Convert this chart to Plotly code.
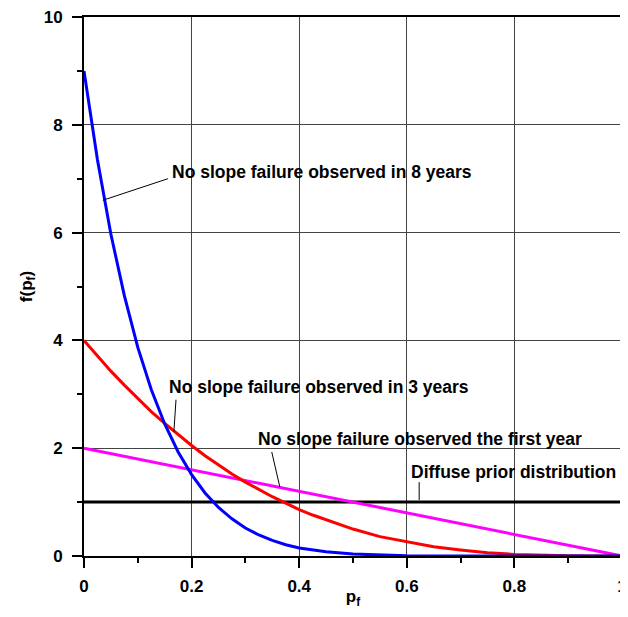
import plotly.graph_objects as go

# Values
p_blue = [0, 0.025, 0.05, 0.075, 0.1, 0.125, 0.15, 0.175, 0.2, 0.225, 0.25, 0.275, 0.3, 0.325, 0.35, 0.375, 0.4, 0.45, 0.5, 0.55, 0.6, 0.7, 0.8, 0.9, 1.0]
f_blue = [9.0, 7.35, 5.97, 4.83, 3.87, 3.09, 2.45, 1.93, 1.51, 1.17, 0.90, 0.69, 0.52, 0.39, 0.29, 0.21, 0.15, 0.08, 0.035, 0.015, 0.006, 0.001, 0.0, 0.0, 0.0]

p_red = [0, 0.025, 0.05, 0.075, 0.1, 0.125, 0.15, 0.175, 0.2, 0.225, 0.25, 0.275, 0.3, 0.325, 0.35, 0.375, 0.4, 0.425, 0.45, 0.475, 0.5, 0.55, 0.6, 0.65, 0.7, 0.75, 0.8, 0.85, 0.9, 0.95, 1.0]
f_red = [4.0, 3.71, 3.43, 3.17, 2.92, 2.68, 2.46, 2.25, 2.05, 1.86, 1.69, 1.52, 1.37, 1.23, 1.10, 0.98, 0.86, 0.76, 0.67, 0.58, 0.50, 0.36, 0.26, 0.17, 0.11, 0.06, 0.03, 0.013, 0.004, 0.0005, 0.0]

p_mag = [0, 1.0]
f_mag = [2.0, 0.0]

p_prior = [0, 1.0]
f_prior = [1.0, 1.0]

x_ticks = [0, 0.2, 0.4, 0.6, 0.8, 1]
x_ticklabels = ["0", "0.2", "0.4", "0.6", "0.8", "1"]
y_ticks = [0, 2, 4, 6, 8, 10]
y_ticklabels = ["0", "2", "4", "6", "8", "10"]

labels = [
    "No slope failure observed in 8 years",
    "No slope failure observed in 3 years",
    "No slope failure observed the first year",
    "Diffuse prior distribution",
]
# label text anchor (left, middle) and leader line (from curve point to label)
label_pos = [(0.160, 7.12), (0.155, 3.13), (0.320, 2.17), (0.604, 1.56)]
leaders = [((0.035, 6.6), (0.156, 7.0)), ((0.167, 2.30), (0.171, 2.90)),
           ((0.364, 1.28), (0.349, 1.93)), ((0.623, 1.04), (0.623, 1.37))]

fig = go.Figure()
fig.add_trace(go.Scatter(x=p_prior, y=f_prior, mode="lines", line=dict(color="black", width=3)))
fig.add_trace(go.Scatter(x=p_mag, y=f_mag, mode="lines", line=dict(color="#ff00ff", width=3)))
fig.add_trace(go.Scatter(x=p_red, y=f_red, mode="lines", line=dict(color="#ff0000", width=3)))
fig.add_trace(go.Scatter(x=p_blue, y=f_blue, mode="lines", line=dict(color="#0000ff", width=3)))

for (t, (lx, ly), ((x0, y0), (x1, y1))) in zip(labels, label_pos, leaders):
    fig.add_shape(type="line", x0=x0, y0=y0, x1=x1, y1=y1, xref="x", yref="y",
                  line=dict(color="black", width=1))
    fig.add_annotation(x=lx, y=ly, text="<b>" + t + "</b>", showarrow=False, xanchor="left", yanchor="middle",
                       font=dict(family="Liberation Sans, Arial", size=17.5, color="black"))

font = dict(family="Liberation Sans, Arial", size=17, color="black")
fig.update_layout(
    width=620, height=601,
    margin=dict(l=76, r=6, t=9, b=53),
    paper_bgcolor="white", plot_bgcolor="white",
    showlegend=False,
    font=font,
    xaxis=dict(range=[0, 1], tickvals=x_ticks, ticktext=["<b>" + s + "</b>" for s in x_ticklabels],
               automargin=False, ticklabeloverflow="allow", ticklabelstandoff=4,
               showgrid=True, gridcolor="#444444", gridwidth=1,
               showline=True, linecolor="black", linewidth=2, mirror=True,
               ticks="outside", ticklen=10, tickwidth=2, tickcolor="black",
               minor=dict(tickvals=[0.1, 0.3, 0.5, 0.7, 0.9], ticks="outside", ticklen=5, tickwidth=2, tickcolor="black", showgrid=False),
               title=dict(text="<b>p<sub>f</sub></b>", standoff=0, font=font),
               zeroline=False),
    yaxis=dict(range=[0, 10], tickvals=y_ticks, ticktext=["<b>" + s + "</b>" for s in y_ticklabels],
               automargin=False, ticklabeloverflow="allow", ticklabelstandoff=6,
               showgrid=True, gridcolor="#444444", gridwidth=1,
               showline=True, linecolor="black", linewidth=2, mirror=True,
               ticks="outside", ticklen=10, tickwidth=2, tickcolor="black",
               minor=dict(tickvals=[1, 3, 5, 7, 9], ticks="outside", ticklen=5, tickwidth=2, tickcolor="black", showgrid=False),
               title=dict(text="<b>f(p<sub>f</sub>)</b>", standoff=7, font=font),
               zeroline=False),
)

fig.write_html("out.html")
